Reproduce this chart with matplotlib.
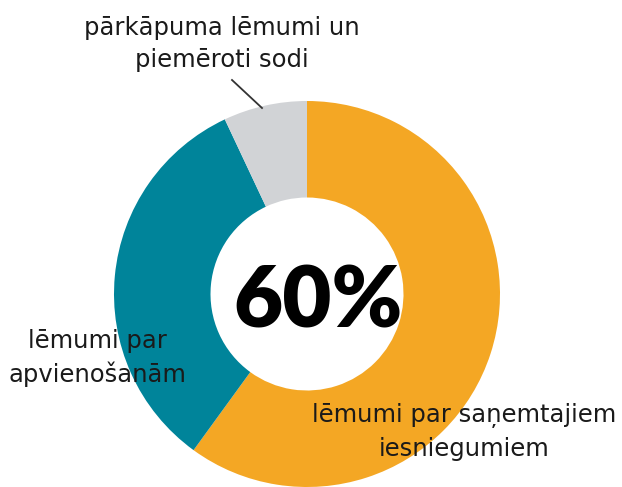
import matplotlib.pyplot as plt

# shares of decisions (percent)
labels = ['lēmumi par saņemtajiem\niesniegumiem', 'lēmumi par\napvienošanām',
          'pārkāpuma lēmumi un\npiemēroti sodi']
values = [60, 33, 7]
colors = ['#F4A724', '#00849A', '#D1D3D6']
center_text = '60%'

W, H = 622, 487
fig = plt.figure(figsize=(W / 100, H / 100), dpi=100)
ax = fig.add_axes([0, 0, 1, 1])

cx, cy, r = 307, H - 294, 193
ax.pie(values, colors=colors, startangle=90, counterclock=False,
       center=(cx, cy), radius=r, frame=True,
       wedgeprops=dict(width=r * 0.5, linewidth=0))
ax.set_xlim(0, W)
ax.set_ylim(0, H)
ax.set_aspect('equal')
ax.axis('off')

ax.text(318, H - 302, center_text, ha='center', va='center', fontsize=61,
        fontweight='heavy', family='Lato', color='black')

txt = dict(fontsize=17.5, family='DejaVu Sans', color='#1a1a1a', linespacing=1.45)
ax.text(464, H - 432, labels[0], ha='center', va='center', **txt)
ax.text(97, H - 358, labels[1], ha='center', va='center', **txt)
ax.text(222, H - 44, labels[2], ha='center', va='center', **txt)
ax.plot([232, 262], [H - 80, H - 108], color='#333333', lw=1.3)

fig.savefig('out.png', dpi=100)
